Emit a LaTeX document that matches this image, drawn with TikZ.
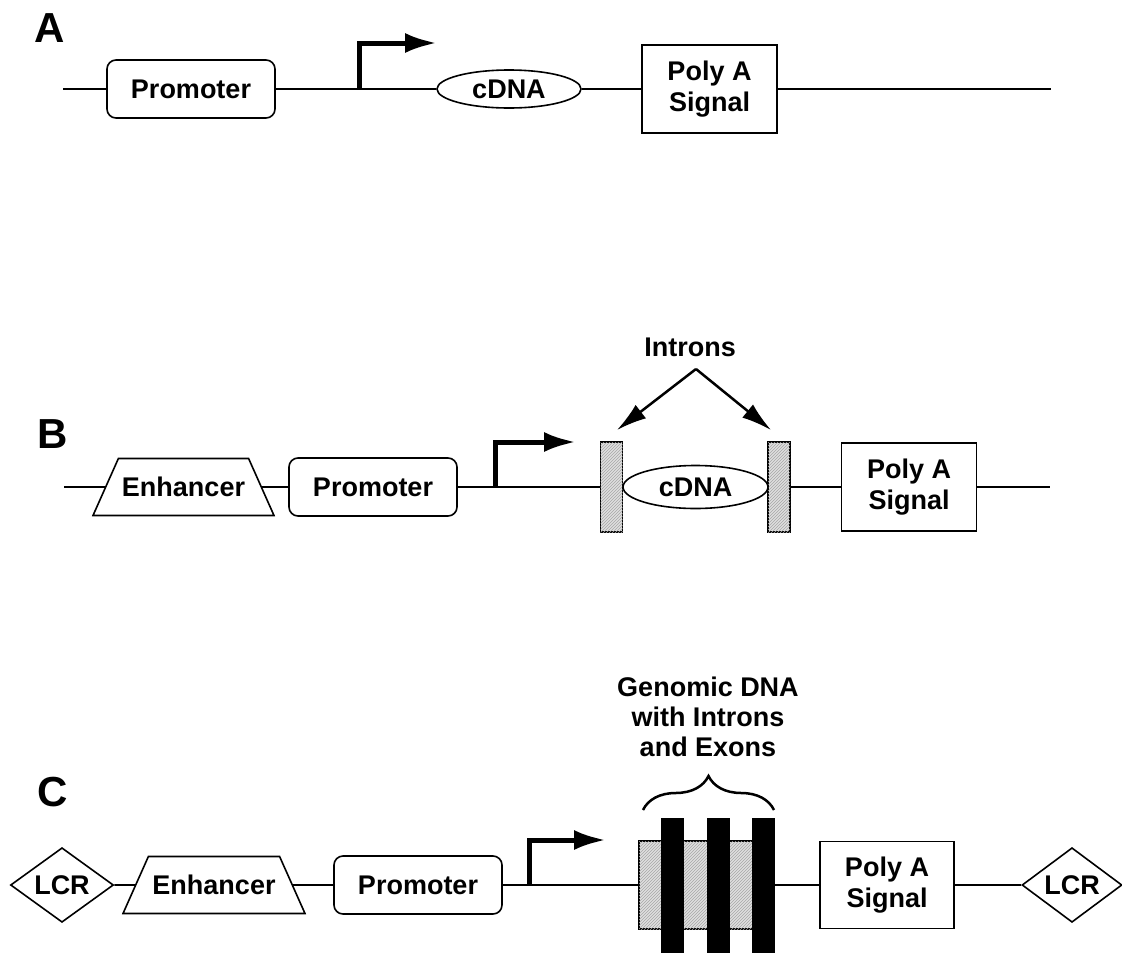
\documentclass[tikz,border=0pt]{standalone}
\usepackage{fontspec}
\setmainfont{Liberation Sans}
\usetikzlibrary{shapes.geometric,arrows.meta,patterns,decorations.pathreplacing}
\tikzset{
  lbl/.style={font=\fontsize{27}{31}\selectfont\bfseries},
  panel/.style={font=\fontsize{42}{42}\selectfont\bfseries},
  dna/.style={line width=1.6pt},
  promoter/.style={lbl, draw, line width=1.6pt, rounded corners=9pt, minimum width=168pt, minimum height=58pt, inner sep=0pt},
  polya/.style={lbl, draw, line width=1.6pt, minimum width=135pt, minimum height=88pt, inner sep=0pt, align=center},
  cdna/.style={lbl, draw, line width=1.6pt, ellipse, inner sep=0pt},
  enhancer/.style={lbl, draw, line width=1.6pt, trapezium, trapezium angle=66, trapezium stretches body, minimum width=181pt, inner xsep=0pt, inner ysep=18.6pt},
  lcr/.style={lbl, draw, line width=1.6pt, diamond, minimum width=103pt, minimum height=72pt, inner sep=0pt},
  intron/.style={draw, line width=1.4pt, fill=gray!25, postaction={pattern=north east lines, pattern color=gray!70}, minimum width=22pt, minimum height=90pt, inner sep=0pt},
  exon/.style={fill=black, minimum width=23pt, minimum height=135pt, inner sep=0pt},
  tss/.style={line width=5pt, -{Latex[length=32pt,width=20pt]}},
  pointer/.style={line width=2.5pt, -{Latex[length=30pt,width=17pt]}}
}
\begin{document}
\begin{tikzpicture}[x=1pt, y=-1pt]
  \useasboundingbox (0,0) rectangle (1122,956);

  % A
  \node[panel] (labA) at (50,28) {A};
  \coordinate (a0) at (63,89);
  \coordinate (a1) at (1051,89);
  \node[promoter] (promA) at (191,89) {Promoter};
  \node[cdna, minimum width=144pt, minimum height=38pt] (cdnaA) at (509,89) {cDNA};
  \node[polya] (polyA) at (709.5,89) {Poly A\\Signal};
  \coordinate (tssA) at (359,89);
  \coordinate (tipA) at (437,43);
  \draw[dna] (a0) -- (promA) -- (cdnaA) -- (polyA) -- (a1);
  \draw[tss] (tssA) |- (tipA);

  % B
  \node[panel] (labB) at (53,434) {B};
  \coordinate (b0) at (64,487);
  \coordinate (b1) at (1050,487);
  \node[enhancer] (enhB) at (183.5,487) {Enhancer};
  \node[promoter] (promB) at (373,487) {Promoter};
  \node[intron] (intronL) at (611.5,487) {};
  \node[intron] (intronR) at (779,487) {};
  \node[cdna, minimum width=145pt, minimum height=43pt] (cdnaB) at (695.5,487) {cDNA};
  \node[polya] (polyB) at (909,487) {Poly A\\Signal};
  \coordinate (tssB) at (495,487);
  \coordinate (tipB) at (576,442);
  \draw[dna] (b0) -- (enhB) -- (promB) -- (intronL);
  \draw[dna] (intronR) -- (polyB) -- (b1);
  \draw[tss] (tssB) |- (tipB);
  \node[lbl] (introns) at (690,347) {Introns};
  \coordinate (apex) at (696,369);
  \coordinate (hitL) at (617,430);
  \coordinate (hitR) at (771,430);
  \draw[pointer] (apex) -- (hitL);
  \draw[pointer] (apex) -- (hitR);

  % C
  \node[panel] (labC) at (53,792) {C};
  \node[lcr] (lcrL) at (62,885) {LCR};
  \node[enhancer, minimum width=182pt] (enhC) at (214,885) {Enhancer};
  \node[promoter] (promC) at (418,885) {Promoter};
  \node[intron, minimum width=135pt, minimum height=88pt] (genomic) at (706.5,885) {};
  \node[exon] (ex1) at (672,885) {};
  \node[exon] (ex2) at (718.5,885) {};
  \node[exon] (ex3) at (763.5,885) {};
  \node[polya, minimum width=134pt, minimum height=87pt] (polyC) at (887,885) {Poly A\\Signal};
  \node[lcr, minimum width=100pt, minimum height=73pt] (lcrR) at (1072,885) {LCR};
  \coordinate (tssC) at (529,885);
  \coordinate (tipC) at (606,840);
  \draw[dna] (lcrL) -- (enhC) -- (promC) -- (genomic);
  \draw[dna] (ex3) -- (polyC) -- (lcrR);
  \draw[tss] (tssC) |- (tipC);
  \coordinate (brL) at (643,810);
  \coordinate (brR) at (774,810);
  \draw[line width=2.5pt, decorate, decoration={brace, amplitude=34pt}] (brL) -- (brR);
  \node[lbl, align=center, font=\fontsize{27}{30}\selectfont\bfseries] (genomictxt) at (708,717) {Genomic DNA\\with Introns\\and Exons};
\end{tikzpicture}
\end{document}
